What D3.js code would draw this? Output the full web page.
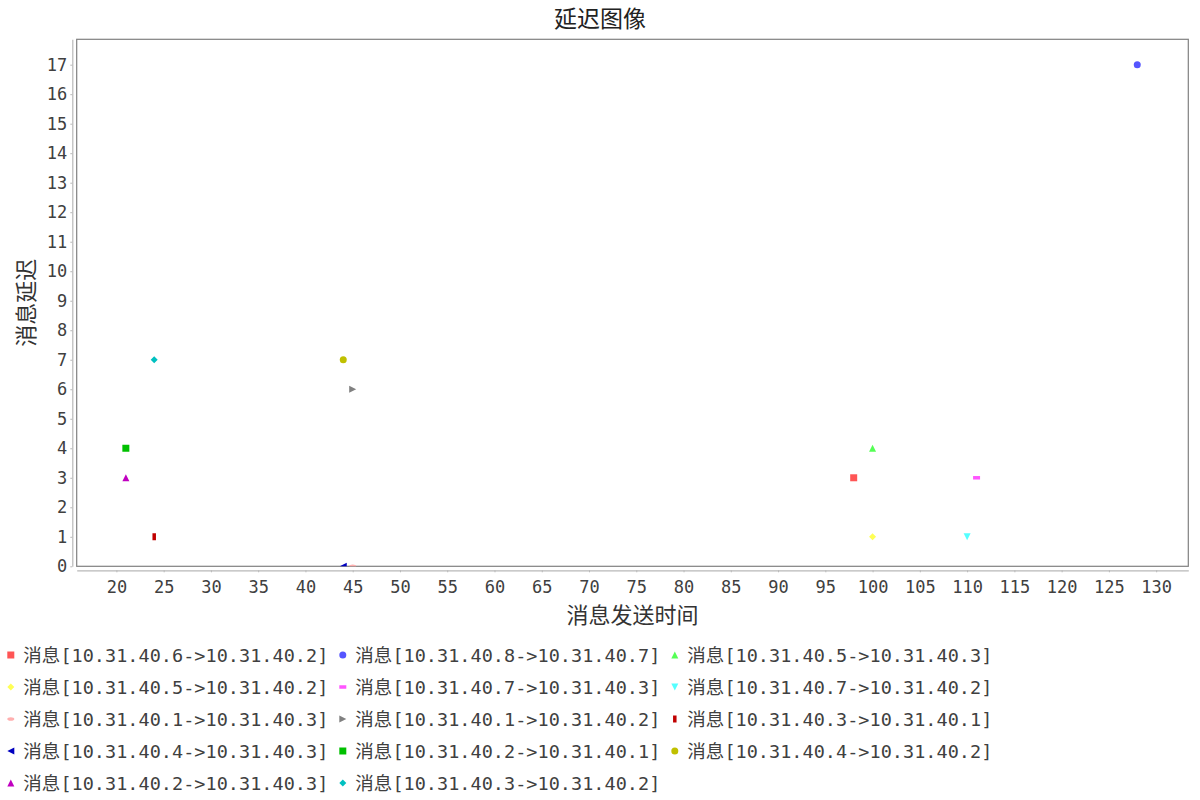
<!DOCTYPE html>
<html><head><meta charset="utf-8">
<script src="https://cdn.jsdelivr.net/npm/d3@7"></script>
<style>body{margin:0;background:#fff}</style>
</head><body><svg id="c" width="1200" height="800"></svg>
<script>
// ---- data ----
const seriesNames = [
  "消息[10.31.40.6->10.31.40.2]","消息[10.31.40.8->10.31.40.7]","消息[10.31.40.5->10.31.40.3]",
  "消息[10.31.40.5->10.31.40.2]","消息[10.31.40.7->10.31.40.3]","消息[10.31.40.7->10.31.40.2]",
  "消息[10.31.40.1->10.31.40.3]","消息[10.31.40.1->10.31.40.2]","消息[10.31.40.3->10.31.40.1]",
  "消息[10.31.40.4->10.31.40.3]","消息[10.31.40.2->10.31.40.1]","消息[10.31.40.4->10.31.40.2]",
  "消息[10.31.40.2->10.31.40.3]","消息[10.31.40.3->10.31.40.2]"
];
const xValues = [98, 128, 100, 100, 111, 110, 45, 45, 24, 44, 21, 44, 21, 24];
const yValues = [3, 17, 4, 1, 3, 1, 0, 6, 1, 0, 4, 7, 3, 7];
const xTicks = [20,25,30,35,40,45,50,55,60,65,70,75,80,85,90,95,100,105,110,115,120,125,130];
const yTicks = [0,1,2,3,4,5,6,7,8,9,10,11,12,13,14,15,16,17];
const titleText = "延迟图像";
const xLabelText = "消息发送时间";
const yLabelText = "消息延迟";

// ---- styles ----
const palette = ["#FF5555","#5555FF","#55FF55","#FFFF55","#FF55FF","#55FFFF","#FFAFAF","#808080",
                 "#C00000","#0000C0","#00C000","#C0C000","#C000C0","#00C0C0"];
const shapeKinds = ["square","circle","up","diamond","hrect","down","hellipse","right","vrect","left"];
function shapePath(kind){
  const h = 3.5, q = 1.75;
  switch(kind){
    case "square": return `M${-h},${-h}h${2*h}v${2*h}h${-2*h}Z`;
    case "circle": return `M${-h},0A${h},${h} 0 1 0 ${h},0A${h},${h} 0 1 0 ${-h},0Z`;
    case "up": return `M0,${-h}L${h},${h}L${-h},${h}Z`;
    case "diamond": return `M0,${-h}L${h},0L0,${h}L${-h},0Z`;
    case "hrect": return `M${-h},${-q}h${2*h}v${2*q}h${-2*h}Z`;
    case "down": return `M${-h},${-h}L${h},${-h}L0,${h}Z`;
    case "hellipse": return `M${-h},0A${h},${q} 0 1 0 ${h},0A${h},${q} 0 1 0 ${-h},0Z`;
    case "right": return `M${-h},${-h}L${h},0L${-h},${h}Z`;
    case "vrect": return `M${-q},${-h}h${2*q}v${2*h}h${-2*q}Z`;
    case "left": return `M${h},${-h}L${-h},0L${h},${h}Z`;
  }
}

const svg = d3.select("#c");
const L = 76.7, R = 1188.3, T = 39.3, B = 566.3;
const x = d3.scaleLinear().domain([15.8, 133.4]).range([L, R]);
const y = d3.scaleLinear().domain([0, 17.86]).range([B, T]);

const monoFont = "'DejaVu Sans Mono','Noto Sans CJK SC',monospace";
const cjkFont = "'Noto Sans CJK SC','DejaVu Sans',sans-serif";

// title
svg.append("text").attr("x", 600).attr("y", 17).attr("text-anchor","middle")
  .attr("dominant-baseline","central").attr("font-family", cjkFont).attr("font-size", 23)
  .attr("fill","#222").text(titleText);

// plot background / outline
svg.append("rect").attr("x", L).attr("y", T).attr("width", R-L).attr("height", B-T)
  .attr("fill","#fff").attr("stroke","#808080").attr("stroke-width",1.2);

// axes
const yAxis = d3.axisLeft(y).tickValues(yTicks).tickSize(2).tickSizeOuter(0).tickPadding(3);
const gy = svg.append("g").attr("transform", `translate(72.3,0)`).call(yAxis);
const xAxis = d3.axisBottom(x).tickValues(xTicks).tickSize(2).tickSizeOuter(0).tickPadding(6);
const gx = svg.append("g").attr("transform", `translate(0,570.3)`).call(xAxis);
[gx, gy].forEach(g => {
  g.select(".domain").attr("stroke","#b8b8b8").attr("stroke-width",1.2);
  g.selectAll(".tick line").attr("stroke","#b8b8b8");
  g.selectAll(".tick text").attr("font-family", monoFont).attr("font-size", 17).attr("fill","#404040");
});
gx.selectAll(".tick text").attr("dy","0.85em");

// axis labels
svg.append("text").attr("x", (L+R)/2).attr("y", 613).attr("text-anchor","middle")
  .attr("dominant-baseline","central").attr("font-family", cjkFont).attr("font-size", 22)
  .attr("fill","#333").text(xLabelText);
svg.append("text").attr("transform", `translate(24,${(T+B)/2}) rotate(-90)`).attr("text-anchor","middle")
  .attr("dominant-baseline","central").attr("font-family", cjkFont).attr("font-size", 22)
  .attr("fill","#333").text(yLabelText);

// clip
svg.append("clipPath").attr("id","pc").append("rect")
  .attr("x", L).attr("y", T).attr("width", R-L).attr("height", B-T);

const pts = seriesNames.map((n,i)=>({name:n, x:xValues[i], y:yValues[i], i}));
svg.append("g").attr("clip-path","url(#pc)").selectAll("path").data(pts).join("path")
  .attr("transform", d => `translate(${x(d.x)},${y(d.y)})`)
  .attr("d", d => shapePath(shapeKinds[d.i % shapeKinds.length]))
  .attr("fill", d => palette[d.i]);

// legend
const lg = svg.append("g");
const items = lg.selectAll("g").data(pts).join("g")
  .attr("transform", d => `translate(${10.8 + (d.i % 3) * 332},${655 + Math.floor(d.i/3) * 32})`);
items.append("path").attr("d", d => shapePath(shapeKinds[d.i % shapeKinds.length])).attr("fill", d => palette[d.i]);
items.append("text").attr("x", 12.5).attr("y", 0).attr("dominant-baseline","central")
  .attr("font-family", monoFont).attr("font-size", 18.5).attr("fill","#404040")
  .attr("textLength", 305).attr("lengthAdjust","spacing")
  .text(d => d.name);
</script>
</body></html>
